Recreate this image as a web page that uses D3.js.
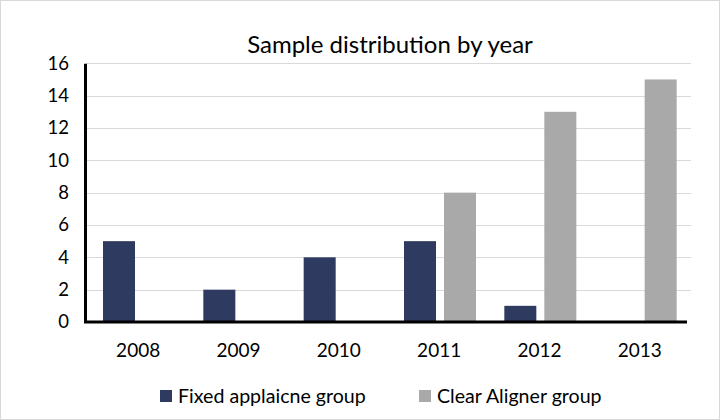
<!DOCTYPE html>
<html>
<head>
<meta charset="utf-8">
<script src="https://cdn.jsdelivr.net/npm/d3@7"></script>
<style>
  html, body { margin: 0; padding: 0; background: #fff; }
  svg { display: block; font-family: Lato, "Open Sans", sans-serif; }
</style>
</head>
<body>
<svg id="chart" width="720" height="420"></svg>
<script>
const years = ["2008", "2009", "2010", "2011", "2012", "2013"];
const seriesNames = ["Fixed applaicne group", "Clear Aligner group"];
const fixedValues = [5, 2, 4, 5, 1, 0];
const clearValues = [0, 0, 0, 8, 13, 15];
const yTicks = [0, 2, 4, 6, 8, 10, 12, 14, 16];
const colors = ["#2E3A5F", "#A9A9A9"];
const title = "Sample distribution by year";

const svg = d3.select("#chart");
const W = 720, H = 420;

svg.append("rect").attr("x", 0.5).attr("y", 0.5).attr("width", W - 1).attr("height", H - 1)
  .attr("fill", "#fff").attr("stroke", "#D9D9D9");

const x = d3.scaleBand().domain(years).range([86, 688]);
const xSub = d3.scaleBand().domain(seriesNames).range([17, 89]).paddingInner(0.2);
const y = d3.scaleLinear().domain([0, 16]).range([322, 63.3]);

// gridlines
svg.append("g").selectAll("line").data(yTicks.filter(d => d > 0)).join("line")
  .attr("x1", 86).attr("x2", 691)
  .attr("y1", d => Math.round(y(d)) + 0.5).attr("y2", d => Math.round(y(d)) + 0.5)
  .attr("stroke", "#D9D9D9").attr("stroke-width", 1);

const series = [fixedValues, clearValues];
series.forEach((vals, si) => {
  svg.append("g").selectAll("rect").data(years.map((yr, i) => ({ yr, v: vals[i] })).filter(d => d.v > 0))
    .join("rect")
    .attr("x", d => x(d.yr) + xSub(seriesNames[si]))
    .attr("width", xSub.bandwidth())
    .attr("y", d => y(d.v))
    .attr("height", d => y(0) - y(d.v))
    .attr("fill", colors[si]);
});

// y axis
const yAxis = d3.axisLeft(y).tickValues(yTicks).tickSize(0).tickPadding(16);
const gy = svg.append("g").attr("transform", "translate(85,0)").call(yAxis);
gy.select(".domain").attr("stroke", "#000").attr("stroke-width", 3);
gy.selectAll("text").attr("font-size", 18.5).attr("fill", "#000").attr("font-family", "Lato");

// x axis
const xAxis = d3.axisBottom(x).tickSize(0).tickPadding(22);
const gx = svg.append("g").attr("transform", "translate(0,322)").call(xAxis);
gx.select(".domain").attr("stroke", "#000").attr("stroke-width", 3).attr("d", "M84,0H687");
gx.selectAll("text").attr("font-size", 19).attr("fill", "#000").attr("font-family", "Lato")
  .attr("dx", 2);

// title
svg.append("text").attr("x", 390).attr("y", 53).attr("text-anchor", "middle")
  .attr("font-size", 24).attr("fill", "#000").text(title);

// legend
const legendX = [160, 419];
seriesNames.forEach((name, i) => {
  const g = svg.append("g").attr("transform", `translate(${legendX[i]},390)`);
  g.append("rect").attr("width", 12).attr("height", 12).attr("fill", colors[i]);
  g.append("text").attr("x", 18).attr("y", 12.5).attr("font-size", 19.6).attr("fill", "#000").text(name);
});
</script>
</body>
</html>
